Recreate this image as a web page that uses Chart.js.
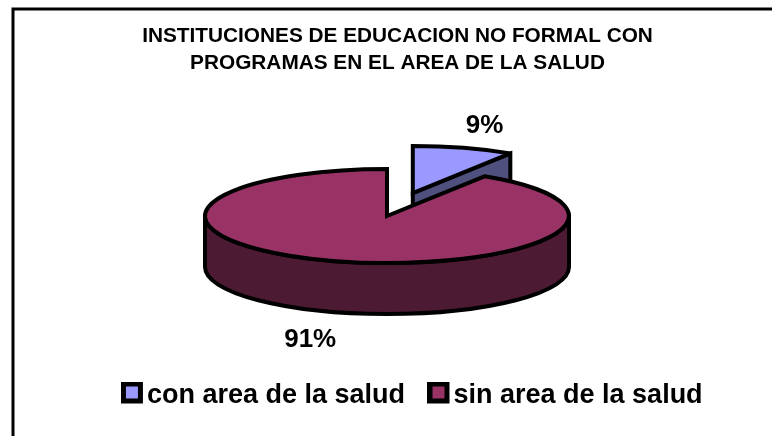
<!DOCTYPE html>
<html>
<head>
<meta charset="utf-8">
<style>html,body{margin:0;padding:0;background:#fff}canvas{display:block}</style>
<script src="https://cdn.jsdelivr.net/npm/chart.js@4"></script>
</head>
<body>
<canvas id="c" width="772" height="436"></canvas>
<script>
const titleLines = ['INSTITUCIONES DE EDUCACION NO FORMAL CON', 'PROGRAMAS EN EL AREA DE LA SALUD'];
const categories = ['con area de la salud', 'sin area de la salud'];
const values = [9, 91];
const topColors = ['#9999ff', '#993366'];
const sideColors = ['#50507f', '#4d1a33'];
const explode = [92.5, 0];
const labelShift = [[21, -22], [-26, 28]];

const FONT = '"Liberation Sans", Arial, sans-serif';
const radius = 182, squash = 47 / 182, depth = 51, pieCenterY = 216, edge = 4;
const titleShiftX = 10.5, legendShiftX = 30.5, legendShiftY = -17;

function swatch(color) {
  const s = document.createElement('canvas');
  s.width = 24; s.height = 28;
  const g = s.getContext('2d');
  g.fillStyle = '#000'; g.fillRect(0, 0, 22, 22);
  g.fillStyle = color; g.fillRect(5, 5, 12, 12);
  return s;
}

function geom(arc, i) {
  const mid = (arc.startAngle + arc.endAngle) / 2;
  return {
    cx: arc.x + Math.cos(mid) * explode[i],
    cy: pieCenterY + Math.sin(mid) * explode[i] * squash,
    rx: arc.outerRadius, ry: arc.outerRadius * squash,
    a0: arc.startAngle, a1: arc.endAngle, mid
  };
}
function rim(g, a) { return [g.cx + g.rx * Math.cos(a), g.cy + g.ry * Math.sin(a)]; }
function outline(ctx) {
  ctx.strokeStyle = '#000'; ctx.lineWidth = edge; ctx.lineJoin = 'miter'; ctx.miterLimit = 2.5; ctx.stroke();
}
function paint(ctx, fill) {
  ctx.fillStyle = fill; ctx.fill();
  outline(ctx);
}
function drawTop(ctx, chart, arc, i) {
  const g = geom(arc, i);
  ctx.save();
  ctx.translate(g.cx, g.cy); ctx.scale(1, squash); ctx.translate(-arc.x, -arc.y);
  arc.draw(ctx);
  ctx.restore();
  ctx.beginPath();
  ctx.moveTo(g.cx, g.cy);
  ctx.ellipse(g.cx, g.cy, g.rx, g.ry, 0, g.a0, g.a1);
  ctx.closePath();
  outline(ctx);
}
function drawEndFace(ctx, arc, i) {
  const g = geom(arc, i), p = rim(g, g.a1);
  ctx.beginPath();
  ctx.moveTo(g.cx, g.cy); ctx.lineTo(p[0], p[1]);
  ctx.lineTo(p[0], p[1] + depth); ctx.lineTo(g.cx, g.cy + depth);
  ctx.closePath();
  paint(ctx, sideColors[i]);
}
function drawWall(ctx, arc, i) {
  const g = geom(arc, i);
  const from = Math.max(g.a0, 0), to = Math.min(g.a1, Math.PI);
  ctx.beginPath();
  ctx.ellipse(g.cx, g.cy, g.rx, g.ry, 0, from, to);
  ctx.ellipse(g.cx, g.cy + depth, g.rx, g.ry, 0, to, from, true);
  ctx.closePath();
  paint(ctx, sideColors[i]);
}

const pie3d = {
  id: 'pie3d',
  afterLayout(chart) {
    chart.titleBlock.left += titleShiftX; chart.titleBlock.right += titleShiftX;
    chart.legend.left += legendShiftX; chart.legend.right += legendShiftX;
    chart.legend.top += legendShiftY; chart.legend.bottom += legendShiftY;
  },
  beforeDraw(chart) {
    const ctx = chart.ctx;
    ctx.save();
    ctx.fillStyle = '#fff'; ctx.fillRect(0, 0, chart.width, chart.height);
    ctx.strokeStyle = '#000'; ctx.lineWidth = 3;
    ctx.beginPath();
    ctx.moveTo(13, chart.height); ctx.lineTo(13, 9); ctx.lineTo(chart.width, 9);
    ctx.stroke();
    ctx.restore();
  },
  beforeDatasetDraw(chart, args) {
    const ctx = chart.ctx, arcs = args.meta.data;
    ctx.save();
    drawEndFace(ctx, arcs[0], 0);
    drawTop(ctx, chart, arcs[0], 0);
    drawWall(ctx, arcs[1], 1);
    drawTop(ctx, chart, arcs[1], 1);
    ctx.fillStyle = '#000';
    ctx.font = 'bold 26px ' + FONT;
    ctx.textAlign = 'center'; ctx.textBaseline = 'middle';
    arcs.forEach((arc, i) => {
      const g = geom(arc, i);
      const x = g.cx + g.rx * Math.cos(g.mid) + labelShift[i][0];
      const y = g.cy + g.ry * Math.sin(g.mid) + (Math.sin(g.mid) > 0 ? depth : 0) + labelShift[i][1];
      ctx.fillText(values[i] + '%', x, y);
    });
    ctx.restore();
    return false;
  }
};

new Chart(document.getElementById('c'), {
  type: 'pie',
  data: {
    labels: categories,
    datasets: [{ data: values, backgroundColor: topColors, borderWidth: 0, radius: radius, clip: false }]
  },
  options: {
    responsive: false,
    animation: false,
    events: [],
    layout: { padding: { left: 2 } },
    plugins: {
      tooltip: { enabled: false },
      title: {
        display: true, text: titleLines, color: '#000',
        font: { family: FONT, size: 20.8, weight: 'bold', lineHeight: 1.3 },
        padding: { top: 23, bottom: 10 }
      },
      legend: {
        display: true, position: 'bottom',
        labels: {
          color: '#000', font: { family: FONT, size: 27, weight: 'bold' },
          usePointStyle: true, boxWidth: 1, boxHeight: 20, padding: 34,
          generateLabels() {
            return categories.map((t, i) => ({ text: t, pointStyle: swatch(topColors[i]), fontColor: '#000', lineWidth: 0, hidden: false, index: i }));
          }
        }
      }
    }
  },
  plugins: [pie3d]
});
</script>
</body>
</html>
